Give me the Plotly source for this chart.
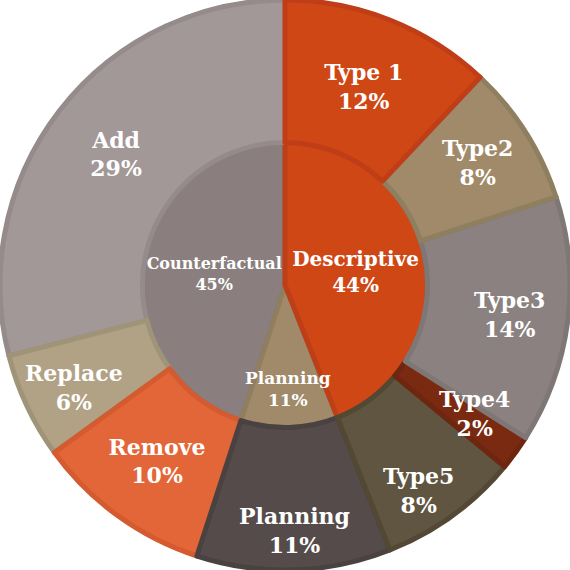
import plotly.graph_objects as go

# hierarchy: inner ring = categories, outer ring = sub types
# (sunburst runs counterclockwise, so the order goes from 12 o'clock leftwards)
ids = ['Counterfactual', 'Planning_in', 'Descriptive',
       'Add', 'Replace', 'Remove',
       'Planning_out',
       'Type5', 'Type4', 'Type3', 'Type2', 'Type 1']
labels = ['Counterfactual', 'Planning', 'Descriptive',
          'Add', 'Replace', 'Remove',
          'Planning',
          'Type5', 'Type4', 'Type3', 'Type2', 'Type 1']
parents = ['', '', '',
           'Counterfactual', 'Counterfactual', 'Counterfactual',
           'Planning_in',
           'Descriptive', 'Descriptive', 'Descriptive', 'Descriptive', 'Descriptive']
values = [45, 11, 44,
          29, 6, 10,
          11,
          8, 2, 14, 8, 12]
pct_text = ['45%', '11%', '44%',
            '29%', '6%', '10%',
            '11%',
            '8%', '2%', '14%', '8%', '12%']

fill_colors = ['#8A7F7E', '#A08A69', '#D04716',
               '#A29897', '#B1A285', '#E36638',
               '#544B4A',
               '#605540', '#7A2A10', '#8B8180', '#A08A69', '#D04716']
line_colors = ['#7E7574', '#8F7E60', '#BD3F17',
               '#958B8A', '#A09478', '#D45A2F',
               '#4A4241',
               '#524833', '#6E2610', '#7F7776', '#8E7F61', '#C03E17']
font_sizes = [16, 17, 20,
              22, 22, 22,
              22,
              22, 22, 22, 22, 22]

# labels that the sunburst would shrink or put elsewhere are annotations
# (id, x, y in paper coords)
free_labels = [('Type4', 0.832, 0.274),
               ('Replace', 0.130, 0.320),
               ('Planning_in', 0.505, 0.318),
               ('Planning_out', 0.517, 0.070),
               ('Type5', 0.735, 0.140),
               ('Type3', 0.893, 0.449)]

template = ['<b>%{label}</b><br><b>%{text}</b>'] * len(ids)
for key, _, _ in free_labels:
    template[ids.index(key)] = ' '

fig = go.Figure(go.Sunburst(
    ids=ids, labels=labels, parents=parents, values=values,
    branchvalues='total', sort=False, rotation=90,
    text=pct_text,
    texttemplate=template,
    insidetextorientation='horizontal',
    insidetextfont=dict(family='DejaVu Serif', color='white', size=font_sizes),
    marker=dict(colors=fill_colors, line=dict(color=line_colors, width=5)),
    leaf=dict(opacity=1),
    hoverinfo='label+text'
))

for key, ax, ay in free_labels:
    i = ids.index(key)
    fig.add_annotation(x=ax, y=ay, xref='paper', yref='paper',
                       xanchor='center', yanchor='middle',
                       text='<b>' + labels[i] + '</b><br><b>' + pct_text[i] + '</b>',
                       showarrow=False,
                       font=dict(family='DejaVu Serif', color='white', size=font_sizes[i]))

fig.update_layout(width=570, height=570,
                  margin=dict(l=0, r=0, t=0, b=0),
                  paper_bgcolor='white')

fig.write_html('out.html', config={'displayModeBar': False},
               post_script="document.body.style.margin='0';")
